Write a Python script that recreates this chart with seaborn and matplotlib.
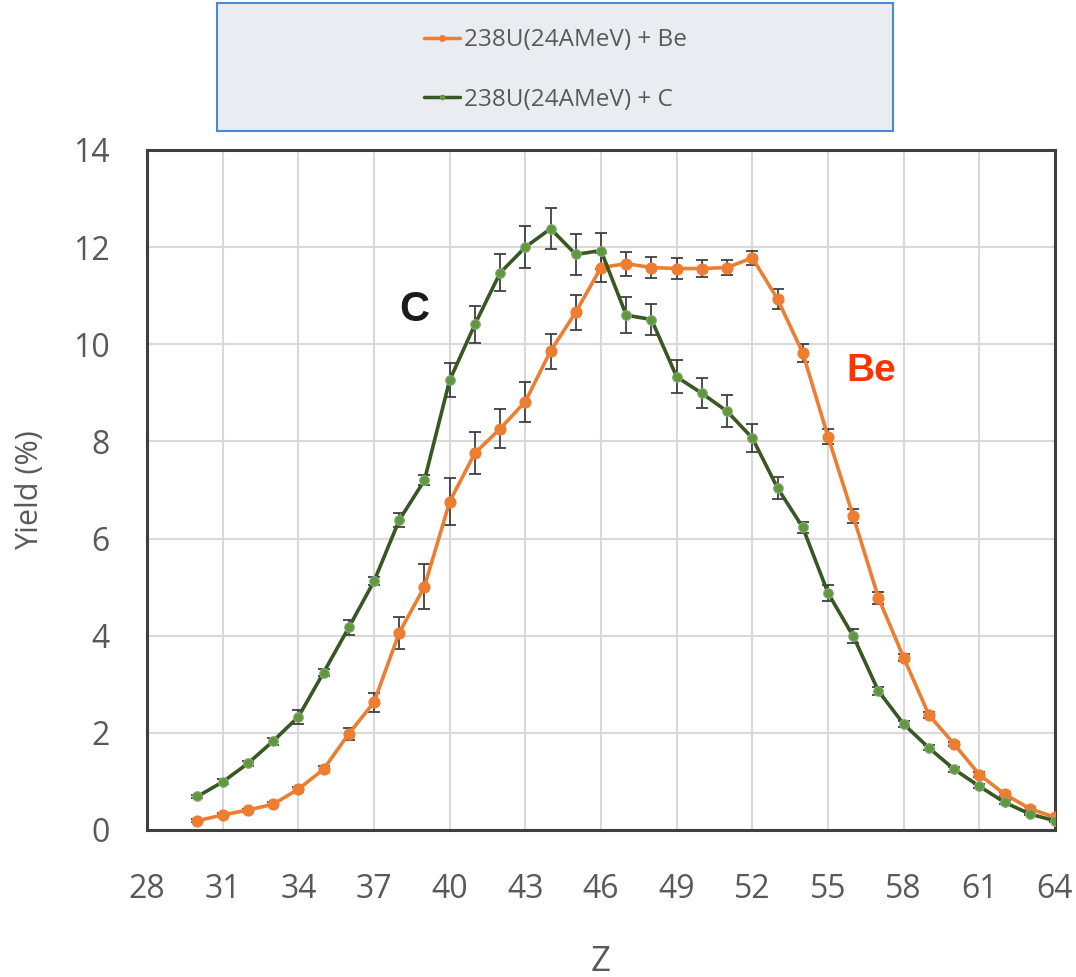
import numpy as np
import pandas as pd
import matplotlib
matplotlib.use("Agg")
import matplotlib.pyplot as plt
import seaborn as sns
from matplotlib.patches import Rectangle
from matplotlib.lines import Line2D

# ---- data ----
z_values = list(range(30, 65))
yield_be = [0.19, 0.31, 0.41, 0.53, 0.84, 1.25, 1.98, 2.63, 4.06, 5.01,
            6.76, 7.76, 8.26, 8.82, 9.86, 10.66, 11.58, 11.66, 11.58, 11.56,
            11.56, 11.58, 11.78, 10.93, 9.82, 8.10, 6.46, 4.78, 3.55, 2.37,
            1.77, 1.14, 0.74, 0.44, 0.26]
err_be = [0.03, 0.03, 0.03, 0.04, 0.05, 0.06, 0.12, 0.20, 0.33, 0.46,
          0.48, 0.44, 0.40, 0.41, 0.36, 0.36, 0.30, 0.25, 0.22, 0.21,
          0.17, 0.15, 0.15, 0.21, 0.19, 0.15, 0.14, 0.12, 0.08, 0.06,
          0.05, 0.05, 0.04, 0.03, 0.03]
yield_c = [0.69, 0.99, 1.37, 1.83, 2.33, 3.24, 4.17, 5.12, 6.38, 7.20,
           9.26, 10.41, 11.47, 12.00, 12.38, 11.85, 11.93, 10.60, 10.51, 9.33,
           8.99, 8.62, 8.07, 7.04, 6.23, 4.88, 3.99, 2.86, 2.18, 1.69,
           1.25, 0.90, 0.57, 0.33, 0.19]
err_c = [0.04, 0.05, 0.06, 0.07, 0.14, 0.07, 0.15, 0.08, 0.15, 0.10,
         0.35, 0.38, 0.38, 0.43, 0.42, 0.43, 0.37, 0.37, 0.31, 0.34,
         0.31, 0.33, 0.28, 0.22, 0.12, 0.17, 0.14, 0.08, 0.06, 0.05,
         0.05, 0.04, 0.04, 0.03, 0.03]
label_be = "238U(24AMeV) + Be"
label_c = "238U(24AMeV) + C"
x_ticks = list(range(28, 65, 3))
y_ticks = list(range(0, 15, 2))

df = pd.DataFrame({
    "Z": z_values * 2,
    "Yield": yield_be + yield_c,
    "err": err_be + err_c,
    "series": [label_be] * len(z_values) + [label_c] * len(z_values),
})

# ---- style ----
sns.set_theme(style="whitegrid")
plt.rcParams['font.family'] = ['Open Sans', 'DejaVu Sans']

orange = "#ED7D31"
green_line = "#385723"
green_mark = "#5E9A3C"
text_gray = "#595959"

fig = plt.figure(figsize=(10.76, 9.77), dpi=100)
ax = fig.add_axes([147/1076, 1 - 830/977, (1055-147)/1076, (830-150)/977])

# error bars
for lab, col in [(label_be, orange), (label_c, green_line)]:
    sub = df[df["series"] == lab]
    ax.errorbar(sub["Z"], sub["Yield"], yerr=sub["err"], fmt="none",
                ecolor="#404040", elinewidth=1.3, capsize=4, capthick=1.3, zorder=2)

sns.lineplot(data=df[df["series"] == label_be], x="Z", y="Yield", ax=ax,
             color=orange, linewidth=2.6, marker="o", markersize=8,
             markeredgecolor=orange, markerfacecolor=orange, zorder=3, legend=False)
sns.lineplot(data=df[df["series"] == label_c], x="Z", y="Yield", ax=ax,
             color=green_line, linewidth=2.6, marker="o", markersize=7,
             markeredgecolor="#8FA888", markerfacecolor=green_mark, zorder=4, legend=False)

ax.set_xlim(28, 64)
ax.set_ylim(0, 14)
ax.set_xticks(x_ticks)
ax.set_yticks(y_ticks)
ax.tick_params(axis="both", labelsize=23, labelcolor=text_gray, length=0)
ax.tick_params(axis="x", pad=31)
ax.tick_params(axis="y", pad=27)
ax.grid(True, color="#D9D9D9", linewidth=1.5)
for s in ax.spines.values():
    s.set_color("#3F3F3F")
    s.set_linewidth(2.2)
ax.set_xlabel("Z", fontsize=25, color=text_gray, labelpad=28)
ax.set_ylabel("Yield (%)", fontsize=22, color=text_gray, labelpad=20)

ax.text(38.6, 10.7, "C", fontsize=30, fontweight="bold", color="#1A1A1A",
        ha="center", va="center", family=['Liberation Sans', 'DejaVu Sans'])
ax.text(56.7, 9.45, "Be", fontsize=28, fontweight="bold", color="#FF3300",
        ha="center", va="center", family=['Liberation Sans', 'DejaVu Sans'])

# legend box
rect = Rectangle((217/1076, 1 - 131/977), (893-217)/1076, (131-3)/977,
                 transform=fig.transFigure, facecolor="#E9ECF1",
                 edgecolor="#4A8BD0", linewidth=1.5, zorder=0)
fig.patches.append(rect)
handles = [Line2D([0], [0], color=orange, linewidth=2.5, marker="o", markersize=4),
           Line2D([0], [0], color=green_line, linewidth=2.5, marker="o", markersize=3,
                  markerfacecolor=green_mark, markeredgecolor=green_mark)]
leg = fig.legend(handles, [label_be, label_c], loc="center",
                 bbox_to_anchor=(555/1076, 1 - 70/977), frameon=False,
                 fontsize=17.5, handlelength=1.5, handletextpad=0.15,
                 labelspacing=1.45)
for t in leg.get_texts():
    t.set_color(text_gray)

fig.savefig("out.png", dpi=100)
